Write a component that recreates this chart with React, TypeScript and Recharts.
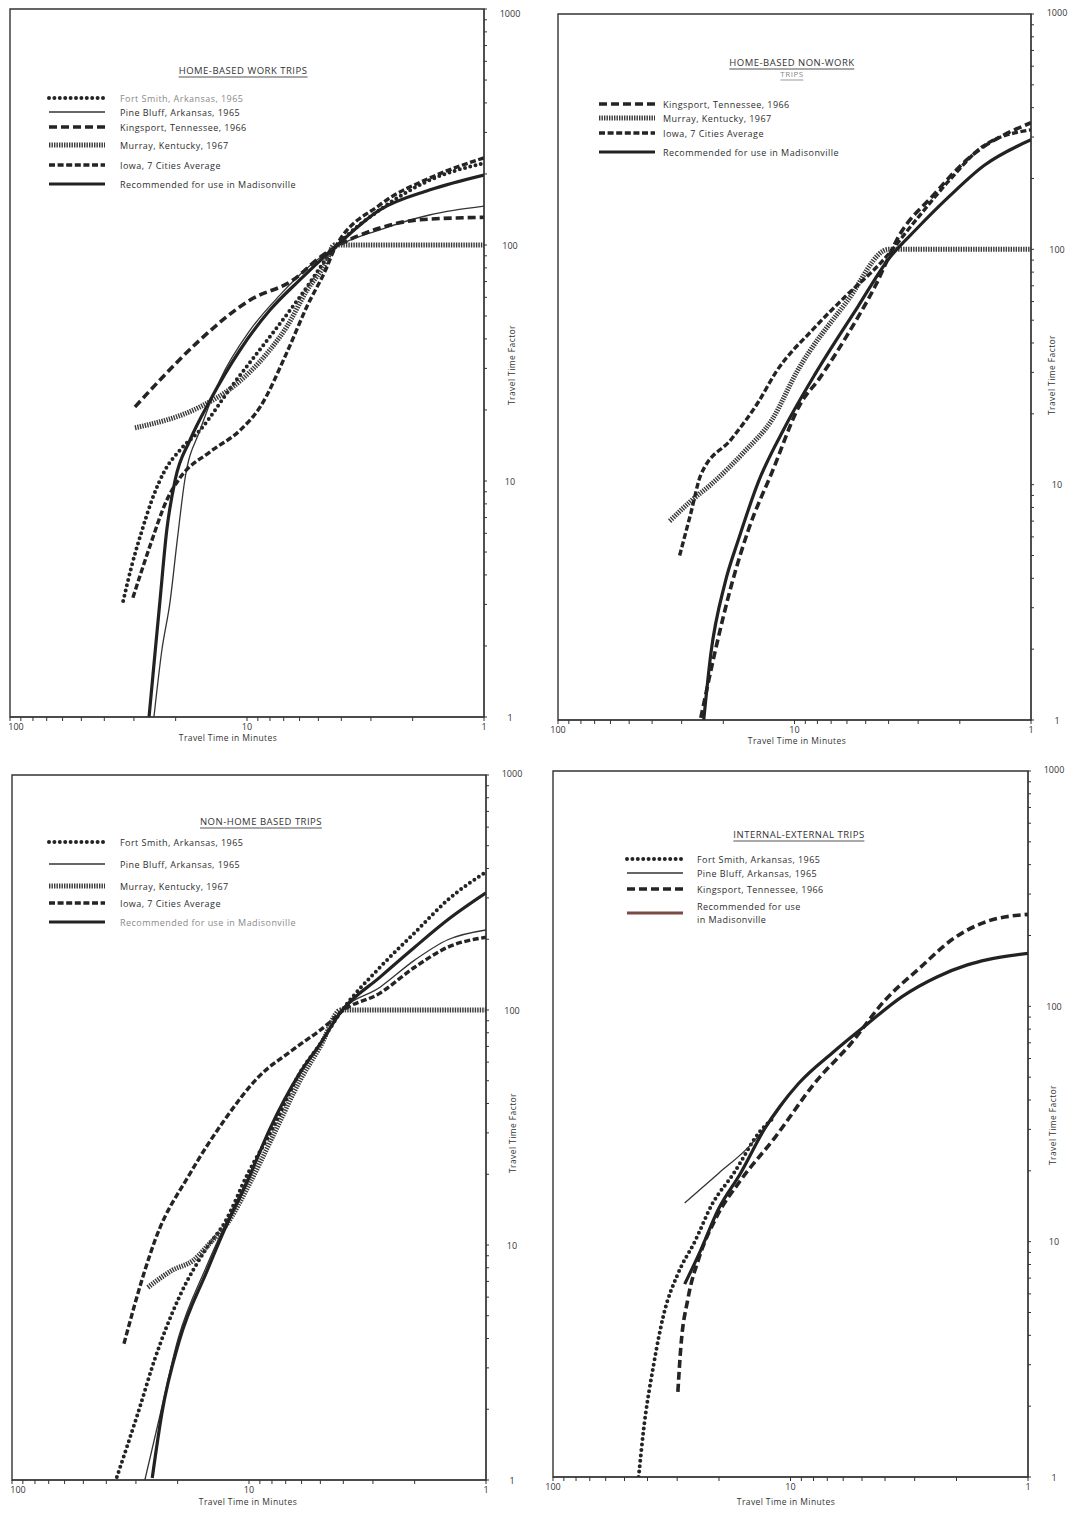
import { LineChart, Line, XAxis, YAxis, ReferenceArea } from 'recharts'

// [travel time in minutes, travel time factor]
type Pt = [number, number]

const X_TICKS = [1, 2, 3, 4, 5, 6, 7, 8, 9, 10, 20, 30, 40, 50, 60, 70, 80, 90, 100]
const X_LABELS = [1, 10, 100]
const Y_TICKS = [
  1, 2, 3, 4, 5, 6, 7, 8, 9,
  10, 20, 30, 40, 50, 60, 70, 80, 90,
  100, 200, 300, 400, 500, 600, 700, 800, 900, 1000,
]
const Y_LABELS = [1, 10, 100, 1000]

// home-based work trips
const workFortSmith: Pt[] = [[33.3, 3.1], [30.6, 4.4], [27.7, 6.2], [25.2, 8.3], [22.2, 11.1], [19.2, 13.5], [15.8, 16.4], [11.5, 25.5], [8.2, 39.6], [6.0, 60], [4.3, 96], [2.75, 141], [1.7, 188], [1, 222]]
const workPineBluff: Pt[] = [[24.7, 1], [22.9, 1.9], [21.1, 3.1], [19.7, 5.6], [18.3, 10.1], [15.8, 16.4], [13.0, 26.8], [9.7, 43.6], [7.3, 61], [5.4, 82], [4.3, 97], [2.75, 116], [1.7, 134], [1, 146]]
const workKingsport: Pt[] = [[29.7, 20.6], [23.3, 26.8], [15.8, 39.6], [9.7, 58.5], [6.4, 71], [4.9, 89], [4.3, 97], [2.75, 118], [1.86, 128], [1, 131]]
const workMurray: Pt[] = [[29.7, 16.8], [15.8, 20.6], [11.5, 25], [8.2, 34.9], [6.8, 45], [5.6, 64], [4.6, 86], [4.3, 100], [2.3, 100], [1, 100]]
const workIowa: Pt[] = [[30.3, 3.2], [25.6, 5.35], [21.8, 8.3], [19.2, 10.3], [14.3, 13.3], [10.7, 16.4], [8.8, 20.6], [6.8, 34.9], [5.6, 54.6], [4.6, 80.7], [4.3, 95], [2.75, 148], [1.7, 192], [1, 234]]
const workRecommended: Pt[] = [[25.9, 1], [24.4, 1.9], [23.3, 3.1], [21.8, 6.2], [20.1, 10.1], [17.4, 14.9], [14.3, 22], [10.7, 35.9], [8.0, 53], [6.0, 71], [4.3, 97], [2.75, 141], [1.7, 171], [1, 198]]

// home-based non-work trips
const nonWorkKingsport: Pt[] = [[24.9, 1.02], [21.8, 1.9], [18.4, 3.8], [15.6, 6.5], [12.4, 11.4], [9.5, 21.8], [7.8, 28.5], [6.0, 43], [4.55, 70], [3.6, 115], [2.6, 169], [1.86, 241], [1, 345]]
const nonWorkMurray: Pt[] = [[33.7, 7.0], [27.5, 8.5], [22.6, 10], [16.3, 13.8], [12.4, 19], [9.8, 30], [6.0, 60], [4.0, 100], [2, 100], [1, 100]]
const nonWorkIowa: Pt[] = [[30.6, 5.0], [27.5, 7.5], [24.9, 11], [18.4, 15.7], [14.2, 22.5], [12.0, 30], [8.3, 46], [6.0, 64], [4.3, 88], [3.05, 134], [2.2, 198], [1.58, 276], [1, 322]]
const nonWorkRecommended: Pt[] = [[24.2, 1], [22.6, 1.9], [19.7, 3.8], [17.2, 5.9], [14.2, 10.3], [11.0, 17.5], [8.1, 30], [5.4, 57], [4.0, 91], [3.05, 122], [2.2, 169], [1.58, 227], [1, 292]]

// non-home based trips
const nonHomeFortSmith: Pt[] = [[36.1, 1.03], [29.4, 1.93], [24.9, 3.3], [19.7, 6.0], [15.0, 9.8], [12.7, 12.4], [10.1, 20.2], [8.0, 30.9], [6.1, 54], [5.0, 72], [4.1, 98], [2.8, 152], [2.0, 213], [1.45, 294], [1, 387]]
const nonHomePineBluff: Pt[] = [[27.5, 1], [24.0, 1.8], [19.9, 4.0], [15.2, 8.0], [12.8, 11.8], [10.2, 19], [8.2, 31], [6.1, 54], [5.0, 72], [4.1, 98], [2.8, 125], [2.0, 163], [1.45, 199], [1, 219]]
const nonHomeMurray: Pt[] = [[26.7, 6.6], [21.1, 7.8], [17.2, 8.6], [14.6, 10.2], [12.3, 12.4], [10.1, 17.7], [7.7, 30.9], [6.1, 50], [5.0, 70], [4.1, 100], [2, 100], [1, 100]]
const nonHomeIowa: Pt[] = [[33.7, 3.8], [27.5, 7.8], [24.9, 10.5], [17.7, 20.2], [12.7, 34], [9.1, 52], [6.5, 68], [4.6, 88], [4.1, 98], [2.8, 118], [2.0, 152], [1.45, 185], [1, 204]]
const nonHomeRecommended: Pt[] = [[25.6, 1.02], [23.3, 1.93], [19.7, 3.9], [15.0, 7.8], [12.7, 11.6], [10.1, 18.9], [8.2, 30.9], [6.1, 54], [5.0, 72], [4.1, 98], [2.8, 138], [2.0, 185], [1.45, 242], [1, 315]]

// internal-external trips
const extFortSmith: Pt[] = [[43.6, 1], [41.6, 1.57], [37.7, 3.0], [34.2, 4.9], [29.8, 7.3], [25.3, 10], [21.4, 14.4], [17.4, 19.4], [13.4, 29.5], [12.0, 33]]
const extPineBluff: Pt[] = [[27.9, 14.6], [20.0, 19.6], [15.4, 24.6], [12.9, 30], [9.25, 47], [6.6, 64], [4.76, 84], [3.39, 110], [2.43, 133], [1.8, 150], [1.48, 158], [1, 168]]
const extKingsport: Pt[] = [[29.8, 2.3], [29.0, 3.5], [27.0, 5.75], [24.3, 8.5], [20.6, 12.6], [16.3, 18.1], [11.7, 27.5], [7.8, 48], [5.6, 69], [4.04, 105], [2.87, 145], [2.06, 194], [1.48, 230], [1, 246]]
const extRecommended: Pt[] = [[27.9, 6.6], [24.3, 8.85], [20.0, 13.9], [16.3, 19.4], [12.9, 30], [9.25, 47], [6.6, 64], [4.76, 84], [3.39, 110], [2.43, 133], [1.8, 150], [1.48, 158], [1, 168]]

const FONT = '"Open Sans", "DejaVu Sans", sans-serif'
const INK = '#242424'
const PAGE = 8

type StyleKey = 'fortSmith' | 'pineBluff' | 'kingsport' | 'murray' | 'iowa' | 'recommended'

const LINE_STYLES: Record<StyleKey, any> = {
  fortSmith: { stroke: INK, strokeWidth: 4, strokeDasharray: '0 5.4', strokeLinecap: 'round' },
  pineBluff: { stroke: '#333', strokeWidth: 1.3 },
  kingsport: { stroke: INK, strokeWidth: 3.6, strokeDasharray: '8 4' },
  murray: { stroke: '#3a3a3a', strokeWidth: 5, strokeDasharray: '1.4 1.1' },
  iowa: { stroke: INK, strokeWidth: 3.4, strokeDasharray: '6 2.6' },
  recommended: { stroke: '#222', strokeWidth: 3.2 },
}

type Series = {
  style: StyleKey
  label: string
  points: Pt[]
  faded?: boolean
  swatch?: string
}

type PanelCfg = {
  id: string
  box: [number, number, number, number] // plot left, top, right, bottom on the page
  title: string[]
  titleAt: [number, number]
  legendX: [number, number] // sample left, text left
  rows: number[]
  xTitleAt: [number, number]
  yTitleAt: [number, number]
  edgeX?: boolean // nudge "100" inside the page
  edgeY?: boolean // nudge "1000" inside the page
  series: Series[]
}

const PANELS: PanelCfg[] = [
  {
    id: 'work',
    box: [10, 9, 484, 717],
    title: ['HOME-BASED WORK TRIPS'],
    titleAt: [243, 71],
    legendX: [47, 120],
    rows: [98, 112, 127, 145, 165, 184],
    xTitleAt: [228, 738],
    yTitleAt: [512, 365],
    edgeX: true,
    edgeY: true,
    series: [
      { style: 'fortSmith', label: 'Fort Smith, Arkansas, 1965', points: workFortSmith, faded: true },
      { style: 'pineBluff', label: 'Pine Bluff, Arkansas, 1965', points: workPineBluff },
      { style: 'kingsport', label: 'Kingsport, Tennessee, 1966', points: workKingsport },
      { style: 'murray', label: 'Murray, Kentucky, 1967', points: workMurray },
      { style: 'iowa', label: 'Iowa, 7 Cities Average', points: workIowa },
      { style: 'recommended', label: 'Recommended for use in Madisonville', points: workRecommended },
    ],
  },
  {
    id: 'nonwork',
    box: [558, 14, 1031, 720],
    title: ['HOME-BASED NON-WORK', 'TRIPS'],
    titleAt: [792, 63],
    legendX: [597, 663],
    rows: [104, 118, 133, 152],
    xTitleAt: [797, 741],
    yTitleAt: [1052, 375],
    series: [
      { style: 'kingsport', label: 'Kingsport, Tennessee, 1966', points: nonWorkKingsport },
      { style: 'murray', label: 'Murray, Kentucky, 1967', points: nonWorkMurray },
      { style: 'iowa', label: 'Iowa, 7 Cities Average', points: nonWorkIowa },
      { style: 'recommended', label: 'Recommended for use in Madisonville', points: nonWorkRecommended },
    ],
  },
  {
    id: 'nonhome',
    box: [12, 775, 486, 1480],
    title: ['NON-HOME BASED TRIPS'],
    titleAt: [261, 822],
    legendX: [47, 120],
    rows: [842, 864, 886, 903, 922],
    xTitleAt: [248, 1502],
    yTitleAt: [513, 1133],
    edgeX: true,
    series: [
      { style: 'fortSmith', label: 'Fort Smith, Arkansas, 1965', points: nonHomeFortSmith },
      { style: 'pineBluff', label: 'Pine Bluff, Arkansas, 1965', points: nonHomePineBluff },
      { style: 'murray', label: 'Murray, Kentucky, 1967', points: nonHomeMurray },
      { style: 'iowa', label: 'Iowa, 7 Cities Average', points: nonHomeIowa },
      { style: 'recommended', label: 'Recommended for use in Madisonville', points: nonHomeRecommended, faded: true },
    ],
  },
  {
    id: 'external',
    box: [553, 771, 1028, 1477],
    title: ['INTERNAL-EXTERNAL TRIPS'],
    titleAt: [799, 835],
    legendX: [625, 697],
    rows: [859, 873, 889, 913],
    xTitleAt: [786, 1502],
    yTitleAt: [1053, 1125],
    series: [
      { style: 'fortSmith', label: 'Fort Smith, Arkansas, 1965', points: extFortSmith },
      { style: 'pineBluff', label: 'Pine Bluff, Arkansas, 1965', points: extPineBluff },
      { style: 'kingsport', label: 'Kingsport, Tennessee, 1966', points: extKingsport },
      { style: 'recommended', label: 'Recommended for use\nin Madisonville', points: extRecommended, swatch: '#7a4a44' },
    ],
  },
]

const XTick = (props: any) => {
  const { x, y, payload, edge } = props
  if (!X_LABELS.includes(payload.value)) return <g />
  const dx = edge && payload.value === 100 ? 6 : 0
  return (
    <text x={x + dx} y={y + 3} textAnchor="middle" dominantBaseline="central" fontSize={9} fill="#333" fontFamily={FONT}>
      {payload.value}
    </text>
  )
}

const YTick = (props: any) => {
  const { x, y, payload, edge } = props
  if (!Y_LABELS.includes(payload.value)) return <g />
  const dy = payload.value === 1000 ? (edge ? 4 : -2) : 0
  return (
    <text x={x + 21} y={y + dy} textAnchor="middle" dominantBaseline="central" fontSize={9} fill="#333" fontFamily={FONT}>
      {payload.value}
    </text>
  )
}

function Panel({ cfg }: { cfg: PanelCfg }) {
  const [l, t, r, b] = cfg.box
  const margin = { top: 10, right: 6, bottom: 6, left: 10 }
  const yW = 56
  const xH = 24
  const width = margin.left + (r - l) + yW + margin.right
  const height = margin.top + (b - t) + xH + margin.bottom

  return (
    <div style={{ position: 'absolute', left: l - PAGE - margin.left, top: t - PAGE - margin.top }}>
      <LineChart width={width} height={height} margin={margin}>
        <XAxis
          type="number"
          dataKey="t"
          scale="log"
          domain={[1, 100]}
          reversed
          allowDataOverflow
          ticks={X_TICKS}
          interval={0}
          height={xH}
          stroke="#333"
          tickSize={4}
          tickMargin={2}
          tick={<XTick edge={cfg.edgeX} />}
        />
        <YAxis
          type="number"
          orientation="right"
          scale="log"
          domain={[1, 1000]}
          allowDataOverflow
          ticks={Y_TICKS}
          interval={0}
          width={yW}
          stroke="#333"
          tickSize={3}
          tickMargin={2}
          tick={<YTick edge={cfg.edgeY} />}
        />
        <ReferenceArea x1={100} x2={1} y1={1} y2={1000} fill="none" stroke="#333" strokeWidth={1.4} ifOverflow="visible" />
        {cfg.series.map((s) => (
          <Line
            key={s.style}
            data={s.points.map(([tt, f]) => ({ t: tt, f }))}
            dataKey="f"
            type="monotone"
            dot={false}
            activeDot={false}
            isAnimationActive={false}
            {...LINE_STYLES[s.style]}
          />
        ))}
      </LineChart>
    </div>
  )
}

function Overlay({ cfg }: { cfg: PanelCfg }) {
  const at = (x: number, y: number): React.CSSProperties => ({
    position: 'absolute',
    left: x - PAGE,
    top: y - PAGE,
  })
  const [sx, tx] = cfg.legendX

  return (
    <>
      {cfg.title.map((line, i) => (
        <div
          key={line}
          style={{
            ...at(cfg.titleAt[0], cfg.titleAt[1] + i * 11),
            transform: 'translate(-50%, -50%)',
            fontSize: i === 0 ? 9.5 : 8,
            letterSpacing: 0.5,
            color: i === 0 ? '#333' : '#888',
            whiteSpace: 'nowrap',
            borderBottom: `${i === 0 ? 1.5 : 1}px solid ${i === 0 ? '#555' : '#999'}`,
            paddingBottom: 1,
            lineHeight: '11px',
          }}
        >
          {line}
        </div>
      ))}

      {cfg.series.map((s, i) => {
        const style = LINE_STYLES[s.style]
        const y = cfg.rows[i]
        return (
          <div key={s.style}>
            <svg width={60} height={8} style={{ ...at(sx, y - 4) }}>
              <line x1={2} y1={4} x2={58} y2={4} {...style} stroke={s.swatch ?? style.stroke} />
            </svg>
            <div
              style={{
                ...at(tx, y),
                transform: 'translateY(-50%)',
                fontSize: 9,
                letterSpacing: 0.45,
                lineHeight: '13px',
                whiteSpace: 'pre',
                color: s.faded ? '#8a8a8a' : '#2e2e2e',
              }}
            >
              {s.label}
            </div>
          </div>
        )
      })}

      <div
        style={{
          ...at(cfg.xTitleAt[0], cfg.xTitleAt[1]),
          transform: 'translate(-50%, -50%)',
          fontSize: 8.5,
          letterSpacing: 0.4,
          lineHeight: '10px',
          color: '#333',
          whiteSpace: 'nowrap',
        }}
      >
        Travel Time in Minutes
      </div>
      <div
        style={{
          ...at(cfg.yTitleAt[0], cfg.yTitleAt[1]),
          transform: 'translate(-50%, -50%) rotate(-90deg)',
          fontSize: 8.5,
          letterSpacing: 0.4,
          lineHeight: '10px',
          color: '#333',
          whiteSpace: 'nowrap',
        }}
      >
        Travel Time Factor
      </div>
    </>
  )
}

export default function App() {
  return (
    <div style={{ position: 'relative', width: 1069, height: 1505, fontFamily: FONT, background: '#fff' }}>
      {PANELS.map((p) => (
        <Panel key={p.id} cfg={p} />
      ))}
      {PANELS.map((p) => (
        <Overlay key={`${p.id}-text`} cfg={p} />
      ))}
    </div>
  )
}
